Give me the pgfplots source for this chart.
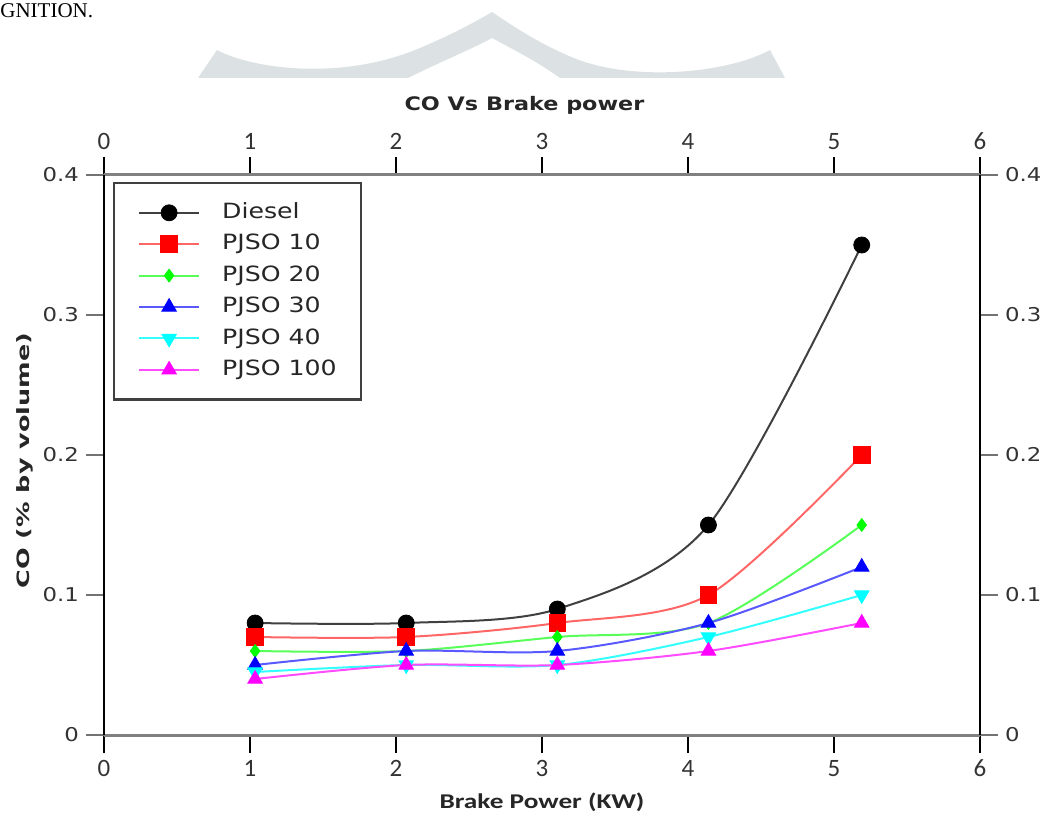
\documentclass[border=0pt]{standalone}
\usepackage{fontspec}
\setmainfont{DejaVu Sans}
\newfontfamily\dv[FakeStretch=1.2]{DejaVu Sans}
\newfontfamily\ylf[FakeStretch=1.5]{DejaVu Sans}
\newfontfamily\cb[FakeStretch=1.3]{Carlito}
\newfontfamily\cbn{Carlito}
\newfontfamily\tnr{Liberation Serif}
\usepackage{pgfplots}
\pgfplotsset{compat=1.18}
\definecolor{wm}{HTML}{DCE2E4}
\definecolor{mag}{RGB}{255,0,255}
\definecolor{cyn}{RGB}{0,255,255}
\definecolor{grn}{RGB}{0,255,0}
\definecolor{rd}{RGB}{255,0,0}
\definecolor{bl}{RGB}{0,0,255}
\begin{document}
\begin{tikzpicture}
\useasboundingbox (0,0) rectangle (524.5pt,407pt);
% page decorations
\begin{scope}[shift={(0pt,407pt)}, x=0.5pt, y=-0.5pt]
\fill[wm] (198,78) -- (217,50) .. controls (250,68) and (340,82) .. (420,48)
  .. controls (455,33) and (475,22) .. (492,12)
  .. controls (510,24) and (540,45) .. (579,60)
  .. controls (640,82) and (730,72) .. (770,50) -- (785,78) -- (560,78)
  .. controls (535,60) and (510,48) .. (492,38)
  .. controls (470,50) and (440,62) .. (408,78) -- cycle;
\node[anchor=base west, inner sep=0pt, font=\tnr\fontsize{10.5}{12}\selectfont] at (0,18) {GNITION.};
\end{scope}

\pgfplotsset{
  common/.style={
    at={(52pt,39.5pt)}, anchor=south west,
    width=438pt, height=280pt, scale only axis,
    xmin=0, xmax=6, ymin=0, ymax=0.4,
    xtick={0,1,2,3,4,5,6}, ytick={0,0.1,0.2,0.3,0.4},
    tick align=outside, major tick length=9pt,
    /pgf/number format/assume math mode=true,
    xticklabel style={font=\cbn\fontsize{12.5}{14}\selectfont, text=black!80},
    yticklabel style={font=\dv\fontsize{9.5}{11}\selectfont, text=black!80},
  },
  legend image code/.code={
    \draw[mark repeat=2,mark phase=2,#1] plot coordinates {(0pt,0pt) (15pt,0pt) (30pt,0pt)};
  },
}

\begin{axis}[common,
  separate axis lines,
  x axis line style={draw=black!50, line width=1.5pt},
  y axis line style={draw=black, line width=1.3pt},
  xtick style={draw=black, line width=1pt},
  ytick style={draw=black!55, line width=1.3pt},
  xticklabel pos=lower, yticklabel pos=left,
  xlabel={Brake Power (KW)}, ylabel={CO (\% by volume)},
  xlabel style={at={(axis description cs:0.5,-0.132)}, anchor=base, font=\cb\bfseries\fontsize{10.5}{12}\selectfont, text=black!85},
  ylabel style={at={(axis description cs:-0.0845,0.49)}, anchor=base, font=\ylf\bfseries\fontsize{8.5}{10}\selectfont, text=black!85},
  title={CO Vs Brake power},
  title style={at={(axis description cs:0.48,1.093)}, anchor=base, yshift=0pt, font=\dv\bfseries\fontsize{9.3}{11}\selectfont, text=black!85},
  legend cell align=left,
  legend style={at={(axis description cs:0.0103,0.9875)}, anchor=north west,
    draw=black!75, line width=1.1pt, fill=white,
    font=\dv\fontsize{10.5}{12}\selectfont, text=black!85,
    inner xsep=12pt, inner ysep=10pt, row sep=6pt,
    nodes={inner sep=0pt, text height=7.7pt, text depth=2pt},
    /tikz/every odd column/.append style={column sep=11pt}},
]
\addplot[smooth, draw=black!75, line width=1pt, mark=*, mark size=4pt,
  mark options={solid, fill=black, draw=black, line width=0.4pt}]
  coordinates {(1.035,0.08) (2.07,0.08) (3.105,0.09) (4.14,0.15) (5.19,0.35)};
\addlegendentry{Diesel}
\addplot[smooth, draw=rd!60, line width=1pt, mark=square*, mark size=4.2pt,
  mark options={solid, fill=rd, draw=rd, line width=0.4pt}]
  coordinates {(1.035,0.07) (2.07,0.07) (3.105,0.08) (4.14,0.10) (5.19,0.20)};
\addlegendentry{PJSO 10}
\addplot[smooth, draw=grn!65, line width=1pt, mark=diamond*, mark size=3.2pt,
  mark options={solid, fill=grn, draw=grn, line width=0.4pt}]
  coordinates {(1.035,0.06) (2.07,0.06) (3.105,0.07) (4.14,0.08) (5.19,0.15)};
\addlegendentry{PJSO 20}
\addplot[smooth, draw=bl!65, line width=1pt, mark=triangle*, mark size=4.2pt,
  mark options={solid, fill=bl, draw=bl, line width=0.4pt}]
  coordinates {(1.035,0.05) (2.07,0.06) (3.105,0.06) (4.14,0.08) (5.19,0.12)};
\addlegendentry{PJSO 30}
\addplot[smooth, draw=cyn!80, line width=1pt, mark=triangle*, mark size=4.2pt,
  mark options={solid, fill=cyn, draw=cyn, line width=0.4pt, rotate=180}]
  coordinates {(1.035,0.045) (2.07,0.05) (3.105,0.05) (4.14,0.07) (5.19,0.10)};
\addlegendentry{PJSO 40}
\addplot[smooth, draw=mag!70, line width=1pt, mark=triangle*, mark size=4.2pt,
  mark options={solid, fill=mag, draw=mag, line width=0.4pt}]
  coordinates {(1.035,0.04) (2.07,0.05) (3.105,0.05) (4.14,0.06) (5.19,0.08)};
\addlegendentry{PJSO 100}
\end{axis}

\begin{axis}[common,
  axis line style={draw=none},
  xtick style={draw=none}, ytick style={draw=none},
  xticklabel pos=upper, yticklabel pos=right,
]
\end{axis}
\end{tikzpicture}
\end{document}
